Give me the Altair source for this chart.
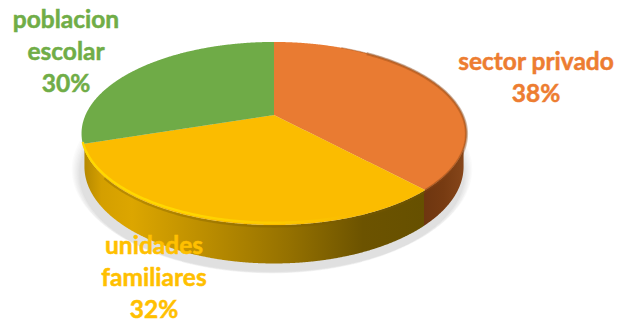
import numpy as np
import pandas as pd
import altair as alt

# Shares of the pie, clockwise from twelve o'clock
categories = ["sector privado", "unidades familiares", "poblacion escolar"]
shares = [38, 32, 30]
label_lines = [["sector privado", "38%"], ["unidades", "familiares", "32%"], ["poblacion", "escolar", "30%"]]
top_colors = ["#E97B32", "#FBBC00", "#6FAB47"]
text_colors = ["#ED7D31", "#FFC000", "#70AD47"]
label_centers = [(536, 63), (154, 247), (66, 21)]

W, H = 617, 322
CX, CY = 274.0, 115.0      # apex of the pie on the canvas
RX, RY = 188.5, 87.8       # disc radii before foreshortening
TILT = 0.202               # perspective strength: the far side shrinks
DEPTH = 32.0               # thickness of the disc
BASE_GROW = 0.985          # the underside sits slightly inside the top face

edges = np.cumsum([0] + shares) * 3.6
sx = alt.Scale(domain=[0, W], range=[0, W], nice=False, zero=False)
sy = alt.Scale(domain=[0, H], range=[0, H], nice=False, zero=False)


def rim(deg, drop=0.0, grow=1.0):
    """Canvas position of a rim point at a clockwise angle, optionally lowered."""
    t = np.radians(deg)
    w = 1 + TILT * np.cos(t)
    return CX + grow * RX * np.sin(t) / w, CY - grow * RY * np.cos(t) / w + drop / w


def band(poly_x, poly_y):
    """Turn a convex polygon into x / y / y2 columns for an area mark."""
    xs = np.unique(np.round(np.concatenate([poly_x, np.arange(np.floor(min(poly_x)), max(poly_x), 1.0)]), 3))
    xs = xs[(xs >= min(poly_x)) & (xs <= max(poly_x))]
    rows = []
    n = len(poly_x)
    for x in xs:
        hits = []
        for i in range(n):
            x0, y0, x1, y1 = poly_x[i], poly_y[i], poly_x[(i + 1) % n], poly_y[(i + 1) % n]
            if min(x0, x1) - 1e-6 <= x <= max(x0, x1) + 1e-6:
                if abs(x1 - x0) < 1e-9:
                    hits += [y0, y1]
                else:
                    hits.append(y0 + (y1 - y0) * (x - x0) / (x1 - x0))
        if hits:
            rows.append({"x": float(x), "y": float(min(hits)), "y2": float(max(hits))})
    return pd.DataFrame(rows)


def area(df, **mark):
    return alt.Chart(df).mark_area(interpolate="linear", **mark).encode(
        x=alt.X("x:Q", scale=sx, axis=None),
        y=alt.Y("y:Q", scale=sy, axis=None),
        y2="y2:Q",
    )


def line(start, end, drop=0.0, **mark):
    deg = np.linspace(start, end, 120)
    x, y = rim(deg, drop)
    df = pd.DataFrame({"x": x, "y": y, "i": np.arange(len(deg))})
    return alt.Chart(df).mark_line(interpolate="linear", **mark).encode(
        x=alt.X("x:Q", scale=sx, axis=None),
        y=alt.Y("y:Q", scale=sy, axis=None),
        order="i:Q",
    )


def h_gradient(stops):
    return alt.Gradient(
        gradient="linear", x1=0, x2=1, y1=0, y2=0,
        stops=[alt.GradientStop(offset=o, color=c) for o, c in stops],
    )


layers = []
all_round = np.linspace(0, 360, 360, endpoint=False)

# Soft ground shadow: stacked translucent outlines of the disc base
for grow, drop in [(1.04, 32), (1.034, 33), (1.028, 34), (1.022, 35), (1.016, 35), (1.01, 36), (1.005, 36), (1.0, 37)]:
    px, py = rim(all_round, drop, grow)
    layers.append(area(band(px - 2, py + 2), color="#9A9A9A", opacity=0.035))

# Side wall: the underside outline, running up to the front rim of the top face
turn = np.degrees(np.arccos(-TILT))
front_x, front_y = rim(np.linspace(360 - turn, turn, 300))
px, py = rim(all_round, DEPTH, BASE_GROW)
base = band(px, py)
base["y"] = np.interp(base["x"], front_x, front_y)
split_x = rim(edges[1])[0] - 1
layers.append(area(base[base["x"] >= split_x - 1], color=h_gradient([(0, "#6E3610"), (0.5, "#773B12"), (1, "#86461A")])))
layers.append(area(base[base["x"] <= split_x], color=h_gradient([
    (0, "#B68900"), (0.05, "#D49F00"), (0.14, "#DCA600"), (0.35, "#BC8E00"),
    (0.6, "#957100"), (0.82, "#6C5300"), (1, "#665000"),
])))

# Top face of the pie
for i, color in enumerate(top_colors):
    deg = np.linspace(edges[i], edges[i + 1], 180)
    px, py = rim(deg)
    layers.append(area(band(np.append(px, CX), np.append(py, CY)), color=color))

# Bevel along the rim of the top face
layers.append(line(edges[1] + 24, edges[2], drop=-1.8, strokeWidth=2.4, stroke=h_gradient([
    (0, "#FFD800"), (0.35, "#FFD800"), (0.7, "rgba(255,218,0,0.5)"), (1, "rgba(255,218,0,0)"),
])))
layers.append(line(edges[0] + 35, edges[1], drop=0.4, strokeWidth=3.2, opacity=0.35, stroke="#8A4515"))
layers.append(line(edges[0] + 25, edges[1], drop=0.0, strokeWidth=1.4, opacity=0.35, stroke="#8A4515"))
layers.append(line(edges[1], edges[2] - 20, drop=1.2, strokeWidth=2.2, opacity=0.35, stroke="#7A5C00"))

# Slice labels, one centred text per line
LEADING = 32
for k, lines in enumerate(label_lines):
    cx, top = label_centers[k]
    for j, text in enumerate(lines):
        layers.append(
            alt.Chart(pd.DataFrame({"t": [text]})).mark_text(
                font="Lato", fontWeight="bold", fontSize=24.5, align="center",
                baseline="middle", color=text_colors[k], stroke=text_colors[k], strokeWidth=0.5,
            ).encode(x=alt.value(cx), y=alt.value(top + j * LEADING), text="t:N")
        )

chart = alt.layer(*layers).properties(
    width=W, height=H, padding=0, autosize=alt.AutoSizeParams(type="none"), background="#FFFFFF",
).configure_view(stroke=None)

chart.save("out.html", embed_options={"renderer": "svg", "actions": False})
